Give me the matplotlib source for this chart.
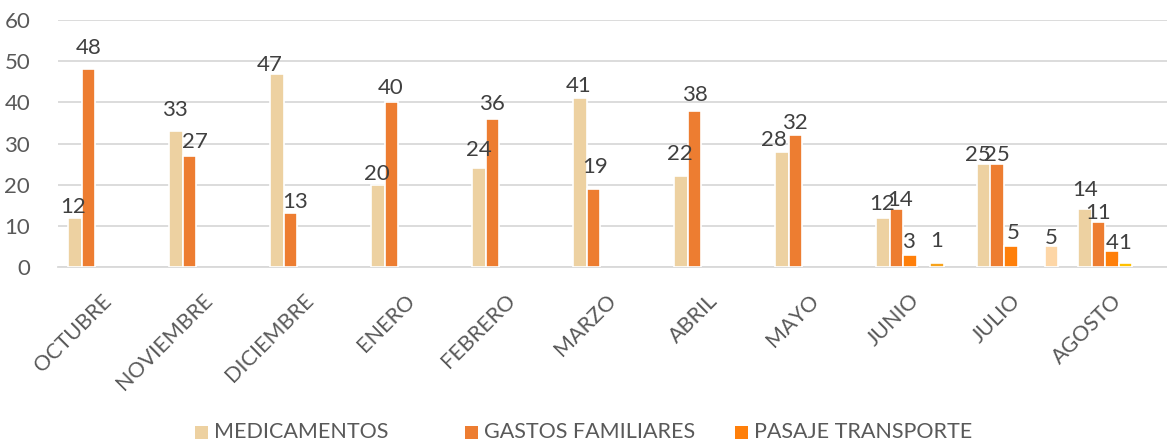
import matplotlib
matplotlib.use("Agg")
import matplotlib.pyplot as plt
import numpy as np
from matplotlib.patches import Rectangle

plt.rcParams['font.family'] = ['Lato', 'DejaVu Sans']

categories = ["OCTUBRE", "NOVIEMBRE", "DICIEMBRE", "ENERO", "FEBRERO", "MARZO",
              "ABRIL", "MAYO", "JUNIO", "JULIO", "AGOSTO"]
nan = np.nan
medicamentos = [12, 33, 47, 20, 24, 41, 22, 28, 12, 25, 14]
gastos_familiares = [48, 27, 13, 40, 36, 19, 38, 32, 14, 25, 11]
pasaje_transporte = [nan, nan, nan, nan, nan, nan, nan, nan, 3, 5, 4]
serie_4 = [nan, nan, nan, nan, nan, nan, nan, nan, nan, nan, 1]
serie_5 = [nan, nan, nan, nan, nan, nan, nan, nan, 1, nan, nan]
serie_6 = [nan, nan, nan, nan, nan, nan, nan, nan, nan, 5, nan]

series = [
    ("MEDICAMENTOS", medicamentos, "#EDD1A1"),
    ("GASTOS FAMILIARES", gastos_familiares, "#ED7D31"),
    ("PASAJE TRANSPORTE", pasaje_transporte, "#FF7F0A"),
    ("", serie_4, "#FFC000"),
    ("", serie_5, "#F7A21B"),
    ("", serie_6, "#FDD6A6"),
]

# label placement tweaks (dx, gap above bar top) in pixels, as placed in the original
label_shift = {
    0: [(-2, 5), (-1, 15), (-7, 3), (-1, 5), (0, 12), (-1, 6), (-1, 16), (-8, 6), (-1, 8), (-6, 3), (0, 13)],
    1: [(0, 15), (6, 8), (5, 5), (-1, 8), (0, 9), (2, 16), (1, 10), (0, 6), (4, 3), (0, 3), (0, 3)],
    2: {8: (-1, 7), 9: (2, 7), 10: (0, 2)},
    3: {10: (-1, 14)},
    4: {8: (0, 16)},
    5: {9: (0, 2)},
}

W, H = 1167, 442
fig = plt.figure(figsize=(W / 100, H / 100), dpi=100)
left_px, right_px, top_px, bottom_px = 58, 1167, 20, 267
ax = fig.add_axes([left_px / W, 1 - bottom_px / H,
                   (right_px - left_px) / W, (bottom_px - top_px) / H])

cat_px = 101.0
x = np.arange(len(categories))
slot = 13.5 / cat_px
n = len(series)
for i, (name, vals, col) in enumerate(series):
    offs = (i - (n - 1) / 2) * slot
    v = np.array(vals, dtype=float)
    ax.bar(x + offs, v, width=slot, color=col, edgecolor="white", linewidth=1.2, zorder=3)
    shifts = label_shift[i]
    for k, (xi, vi) in enumerate(zip(x + offs, v)):
        if not np.isnan(vi):
            dx, gap = shifts[k]
            ax.annotate(f"{int(vi)}", (xi, vi), xytext=(dx, gap), textcoords="offset pixels",
                        ha="center", va="baseline", fontsize=16, color="#404040", zorder=4)

ax.set_ylim(0, 60)
ax.set_yticks(range(0, 61, 10))
ax.set_xlim(-0.5, -0.5 + (right_px - left_px) / cat_px)
ax.set_xticks(x)
ax.set_xticklabels(categories, rotation=45, ha="right", va="center", rotation_mode="anchor",
                   fontsize=15.5, color="#595959")
ax.tick_params(axis="x", length=0, pad=22)
ax.tick_params(axis="y", length=0, pad=20, labelsize=16, labelcolor="#595959")
ax.grid(axis="y", color="#D9D9D9", linewidth=1.3, zorder=0)
for s in ["top", "right", "left"]:
    ax.spines[s].set_visible(False)
ax.spines["bottom"].set_color("#D9D9D9")
ax.spines["bottom"].set_linewidth(1.3)

# legend (first three series), drawn in figure pixels
leg_sq_x = [195, 465, 735]
leg_y = 432
sq = 13
for (name, _, col), sx in zip(series[:3], leg_sq_x):
    fig.patches.append(Rectangle((sx / W, 1 - (leg_y + sq / 2) / H), sq / W, sq / H,
                                 transform=fig.transFigure, facecolor=col, edgecolor="none"))
    fig.text((sx + sq + 6) / W, 1 - leg_y / H, name, ha="left", va="center",
             fontsize=15.5, color="#595959")

fig.savefig("out.png", dpi=100)
